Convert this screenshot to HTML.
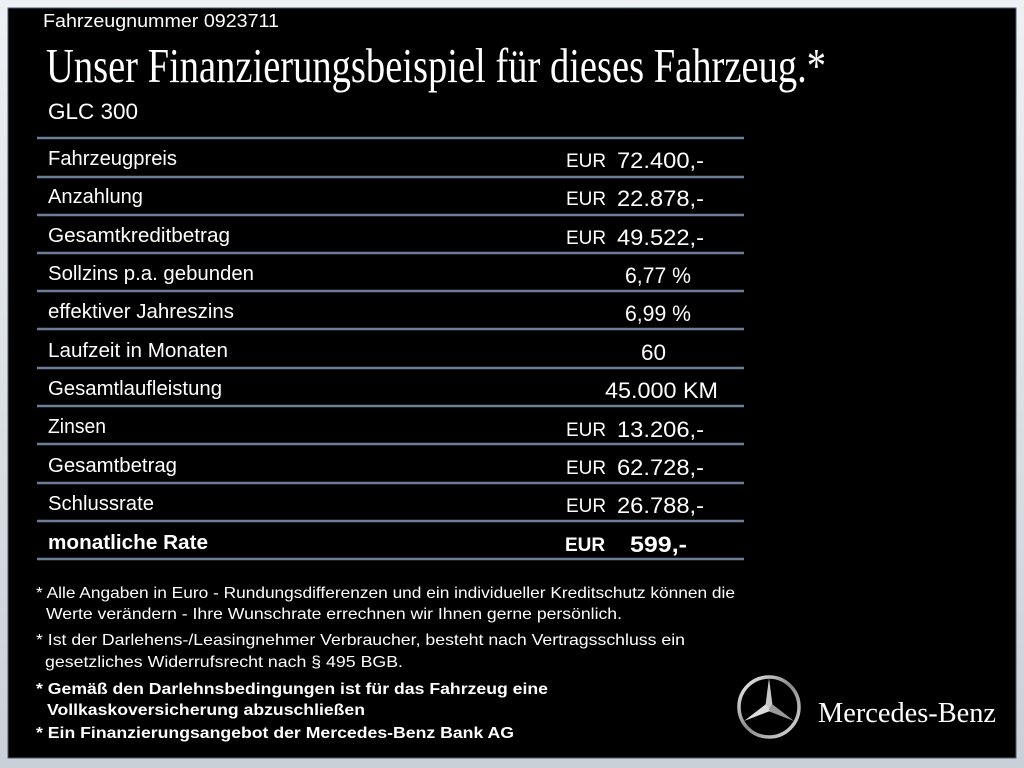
<!DOCTYPE html>
<html><head><meta charset="utf-8"><style>
html,body{margin:0;padding:0;background:#dfe4ea;}
svg{display:block}
</style></head><body>
<svg width="1024" height="768" viewBox="0 0 1024 768" xmlns="http://www.w3.org/2000/svg">
<defs>
<linearGradient id="fr" x1="0" y1="0" x2="0" y2="1"><stop offset="0" stop-color="#eef1f4"/><stop offset="1" stop-color="#c9d0d8"/></linearGradient>
<linearGradient id="ring" x1="0" y1="0" x2="1" y2="1"><stop offset="0" stop-color="#f4f4f4"/><stop offset="0.5" stop-color="#8a8a8a"/><stop offset="1" stop-color="#e0e0e0"/></linearGradient>
</defs>
<rect width="1024" height="768" fill="url(#fr)"/>
<rect x="8" y="8" width="1008" height="750" fill="#000" stroke="#4a5a70" stroke-width="1"/>
<g fill="#fff" font-family="Liberation Sans, sans-serif">
<text x="43" y="27" font-size="18" textLength="236" lengthAdjust="spacingAndGlyphs">Fahrzeugnummer  0923711</text>
<text x="46" y="82" font-family="Liberation Serif, serif" font-size="49" textLength="780" lengthAdjust="spacingAndGlyphs">Unser Finanzierungsbeispiel für dieses Fahrzeug.*</text>
<text x="48" y="119" font-size="22" textLength="90" lengthAdjust="spacingAndGlyphs">GLC 300</text>
</g>
<g stroke="#6b7f98" stroke-width="2.5">
<line x1="37" x2="744" y1="138" y2="138"/><line x1="37" x2="744" y1="177" y2="177"/>
<line x1="37" x2="744" y1="215" y2="215"/><line x1="37" x2="744" y1="253" y2="253"/>
<line x1="37" x2="744" y1="291" y2="291"/><line x1="37" x2="744" y1="329" y2="329"/>
<line x1="37" x2="744" y1="368" y2="368"/><line x1="37" x2="744" y1="406" y2="406"/>
<line x1="37" x2="744" y1="444" y2="444"/><line x1="37" x2="744" y1="483" y2="483"/>
<line x1="37" x2="744" y1="521" y2="521"/><line x1="37" x2="744" y1="559" y2="559"/>
</g>
<g fill="#fff" font-family="Liberation Sans, sans-serif" font-size="20">
<text x="48" y="165" textLength="129" lengthAdjust="spacingAndGlyphs">Fahrzeugpreis</text>
<text x="48" y="203" textLength="95" lengthAdjust="spacingAndGlyphs">Anzahlung</text>
<text x="48" y="242" textLength="182" lengthAdjust="spacingAndGlyphs">Gesamtkreditbetrag</text>
<text x="48" y="280" textLength="206" lengthAdjust="spacingAndGlyphs">Sollzins p.a. gebunden</text>
<text x="48" y="318" textLength="186" lengthAdjust="spacingAndGlyphs">effektiver Jahreszins</text>
<text x="48" y="357" textLength="180" lengthAdjust="spacingAndGlyphs">Laufzeit in Monaten</text>
<text x="48" y="395" textLength="174" lengthAdjust="spacingAndGlyphs">Gesamtlaufleistung</text>
<text x="48" y="433" textLength="58" lengthAdjust="spacingAndGlyphs">Zinsen</text>
<text x="48" y="472" textLength="129" lengthAdjust="spacingAndGlyphs">Gesamtbetrag</text>
<text x="48" y="510" textLength="106" lengthAdjust="spacingAndGlyphs">Schlussrate</text>
<text x="48" y="549" font-weight="bold" textLength="160" lengthAdjust="spacingAndGlyphs">monatliche Rate</text>
</g>
<g fill="#fff" font-family="Liberation Sans, sans-serif" font-size="22">
<text x="566" y="167" font-size="19">EUR</text><text x="617" y="168" textLength="87" lengthAdjust="spacingAndGlyphs">72.400,-</text>
<text x="566" y="205" font-size="19">EUR</text><text x="617" y="206" textLength="87" lengthAdjust="spacingAndGlyphs">22.878,-</text>
<text x="566" y="244" font-size="19">EUR</text><text x="617" y="245" textLength="87" lengthAdjust="spacingAndGlyphs">49.522,-</text>
<text x="625" y="283" textLength="66" lengthAdjust="spacingAndGlyphs">6,77 %</text>
<text x="625" y="321" textLength="66" lengthAdjust="spacingAndGlyphs">6,99 %</text>
<text x="641" y="360" textLength="25" lengthAdjust="spacingAndGlyphs">60</text>
<text x="605" y="398" textLength="113" lengthAdjust="spacingAndGlyphs">45.000 KM</text>
<text x="566" y="436" font-size="19">EUR</text><text x="617" y="437" textLength="87" lengthAdjust="spacingAndGlyphs">13.206,-</text>
<text x="566" y="474" font-size="19">EUR</text><text x="617" y="475" textLength="87" lengthAdjust="spacingAndGlyphs">62.728,-</text>
<text x="566" y="512" font-size="19">EUR</text><text x="617" y="513" textLength="87" lengthAdjust="spacingAndGlyphs">26.788,-</text>
<text x="565" y="551" font-size="19" font-weight="bold">EUR</text><text x="630" y="552" font-weight="bold" textLength="57" lengthAdjust="spacingAndGlyphs">599,-</text>
</g>
<g fill="#fff" font-family="Liberation Sans, sans-serif" font-size="16">
<text x="36" y="598" textLength="699" lengthAdjust="spacingAndGlyphs">* Alle Angaben in Euro - Rundungsdifferenzen und ein individueller Kreditschutz können die</text>
<text x="46" y="619" textLength="576" lengthAdjust="spacingAndGlyphs">Werte verändern - Ihre Wunschrate errechnen wir Ihnen gerne persönlich.</text>
<text x="36" y="645" textLength="649" lengthAdjust="spacingAndGlyphs">* Ist der Darlehens-/Leasingnehmer Verbraucher, besteht nach Vertragsschluss ein</text>
<text x="45" y="667" textLength="358" lengthAdjust="spacingAndGlyphs">gesetzliches  Widerrufsrecht nach § 495 BGB.</text>
<g font-weight="bold">
<text x="36" y="694" textLength="512" lengthAdjust="spacingAndGlyphs">* Gemäß den Darlehnsbedingungen ist für das Fahrzeug eine</text>
<text x="47" y="715" textLength="318" lengthAdjust="spacingAndGlyphs">Vollkaskoversicherung abzuschließen</text>
<text x="36" y="738" textLength="478" lengthAdjust="spacingAndGlyphs">* Ein Finanzierungsangebot der Mercedes-Benz Bank AG</text>
</g>
</g>
<g transform="translate(769,707)">
<circle r="30" fill="none" stroke="url(#ring)" stroke-width="3.5"/>
<polygon points="0,-29 4,2 -4,2" fill="#c8c8c8"/>
<polygon points="25,14 -1,4 3,-3" fill="#9a9a9a"/>
<polygon points="-25,14 -3,-3 1,4" fill="#dcdcdc"/>
</g>
<text x="818" y="722" fill="#fff" font-family="Liberation Serif, serif" font-size="29" textLength="178" lengthAdjust="spacingAndGlyphs">Mercedes-Benz</text>
</svg>
</body></html>
